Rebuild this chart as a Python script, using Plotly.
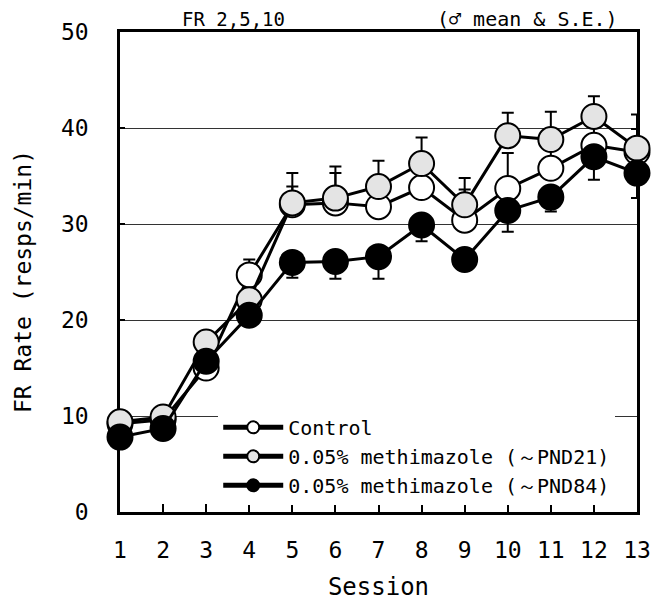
import plotly.graph_objects as go

sessions = list(range(1, 14))
control = [9.2, 9.6, 15.0, 24.7, 32.0, 32.2, 31.8, 33.8, 30.4, 33.7, 35.8, 38.2, 37.5]
control_se = [0.5, 0.5, 0.6, 1.6, 1.9, 3.1, 1.5, 2.0, 3.2, 3.7, 2.0, 2.0, 2.4]
pnd21 = [9.4, 9.9, 17.7, 22.1, 32.2, 32.7, 33.9, 36.3, 32.0, 39.2, 38.8, 41.2, 37.9]
pnd21_se = [0.5, 0.5, 0.8, 1.0, 3.1, 3.3, 2.7, 2.7, 2.8, 2.4, 2.9, 2.1, 3.5]
pnd84 = [7.8, 8.7, 15.7, 20.5, 26.0, 26.1, 26.6, 29.9, 26.3, 31.4, 32.8, 37.0, 35.3]
pnd84_se = [0.5, 0.5, 0.8, 0.8, 1.6, 1.8, 2.3, 1.7, 1.0, 2.2, 1.5, 2.4, 2.6]
zeros = [0] * 13

names = ["Control", "0.05% methimazole (～PND21)", "0.05% methimazole (～PND84)"]
FONT = "DejaVu Sans Mono"

fig = go.Figure()

def add(y, se, name, fill, up=True):
    fig.add_trace(go.Scatter(
        x=sessions, y=y, name=name, mode="lines+markers",
        line=dict(color="black", width=3),
        marker=dict(size=25, color=fill, line=dict(color="black", width=2)),
        error_y=dict(type="data", symmetric=False,
                     array=se if up else zeros,
                     arrayminus=zeros if up else se,
                     color="black", thickness=2, width=6),
        cliponaxis=False,
    ))

add(control, control_se, names[0], "white", True)
add(pnd21, pnd21_se, names[1], "#e4e4e4", True)
add(pnd84, pnd84_se, names[2], "black", False)

fig.update_layout(
    width=651, height=601,
    margin=dict(l=120, r=14, t=32, b=89, autoexpand=False),
    paper_bgcolor="white", plot_bgcolor="white",
    font=dict(family=FONT, color="black", size=20),
    showlegend=True,
    legend=dict(x=0.19, y=0.217, xanchor="left", yanchor="top",
                bgcolor="white", borderwidth=0,
                font=dict(family=FONT, size=20),
                itemsizing="constant", itemwidth=60,
                traceorder="normal", tracegroupgap=0),
    xaxis=dict(range=[1, 13], tickmode="array", tickvals=sessions,
               ticks="inside", ticklen=8, tickwidth=2, tickcolor="black",
               showline=True, linewidth=2.5, linecolor="black", mirror=True,
               showgrid=False, zeroline=False, layer="below traces",
               automargin=False,
               tickfont=dict(family=FONT, size=23),
               ticklabelstandoff=16,
               title=dict(text="Session", font=dict(family=FONT, size=24), standoff=23)),
    yaxis=dict(range=[0, 50], tickvals=[0, 10, 20, 30, 40, 50],
               ticks="inside", ticklen=5, tickwidth=1.5, tickcolor="black",
               showline=True, linewidth=2.5, linecolor="black", mirror=True,
               showgrid=True, gridcolor="#333333", gridwidth=1,
               zeroline=False, layer="below traces", automargin=False,
               tickfont=dict(family=FONT, size=23),
               ticklabelstandoff=24),
    annotations=[
        dict(text="FR Rate (resps/min)", x=-0.1876, y=0.479, xref="paper", yref="paper",
             xanchor="center", yanchor="middle", textangle=-90,
             showarrow=False, font=dict(family=FONT, size=23)),
        dict(text="FR 2,5,10", x=0.2205, y=1.027, xref="paper", yref="paper",
             xanchor="center", yanchor="middle",
             showarrow=False, font=dict(family=FONT, size=19)),
        dict(text="(♂ mean & S.E.)", x=0.789, y=1.027, xref="paper", yref="paper",
             xanchor="center", yanchor="middle",
             showarrow=False, font=dict(family=FONT, size=20)),
    ],
)

fig.write_html("out.html")
